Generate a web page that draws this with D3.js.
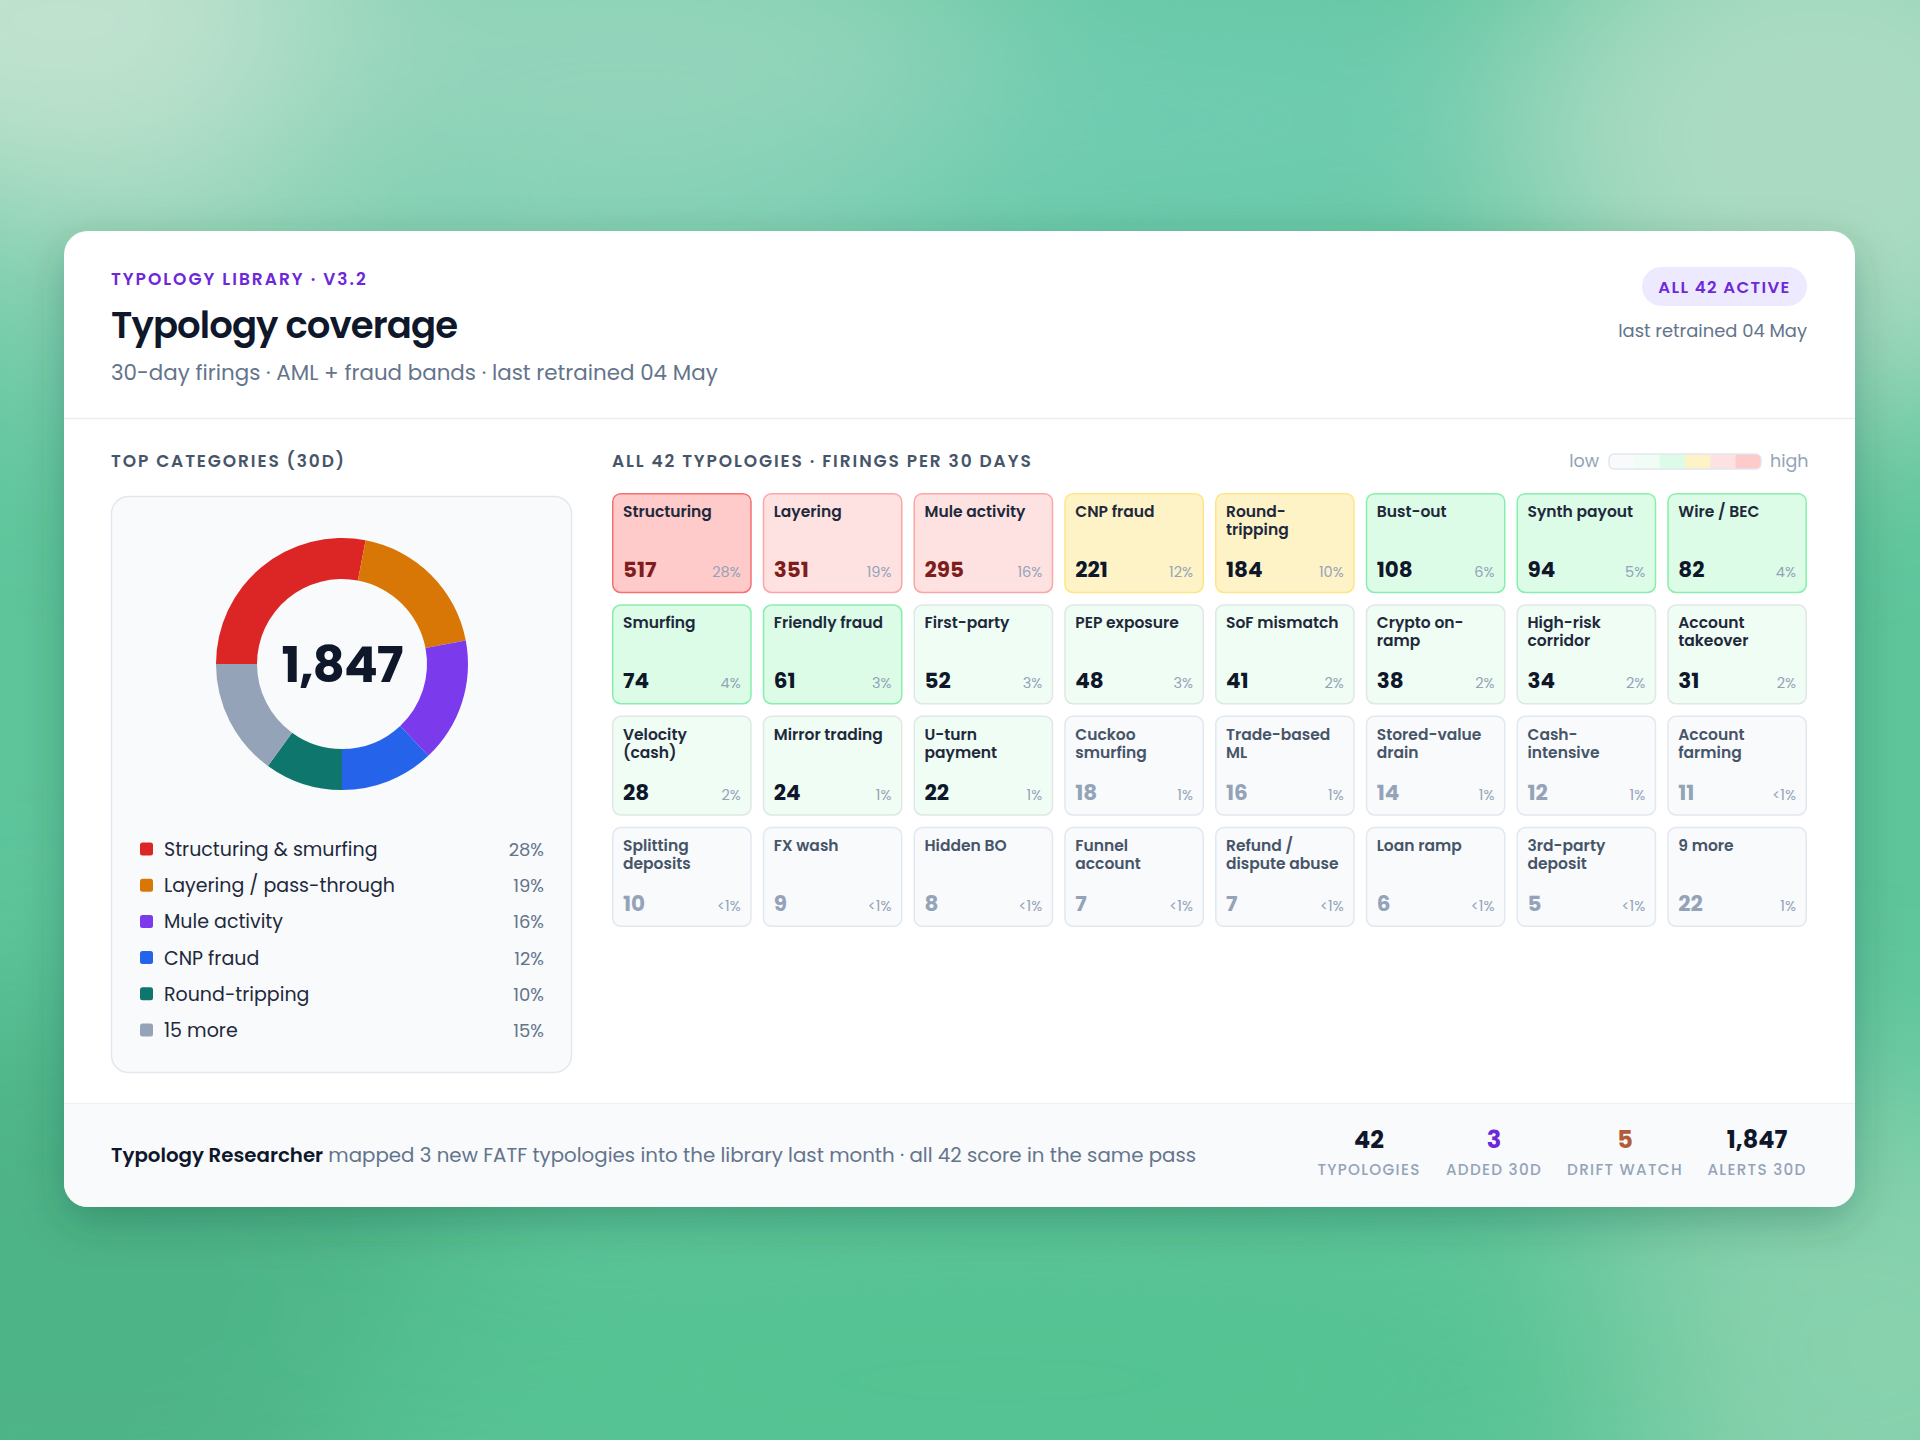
<!DOCTYPE html>
<html>
<head>
<meta charset="utf-8">
<script src="https://cdn.jsdelivr.net/npm/d3@7"></script>
<style>
html, body { margin: 0; padding: 0; background: #5ec59b; }
svg { display: block; font-family: Poppins, Inter, "Noto Sans", sans-serif; }
</style>
</head>
<body>
<svg id="chart" width="1920" height="1440"></svg>
<script>
// donut: top categories, share of 30-day firings
const categories = ['Structuring & smurfing', 'Layering / pass-through', 'Mule activity', 'CNP fraud', 'Round-tripping', '15 more'];
const categoryShares = [28, 19, 16, 12, 10, 15];
const categoryColors = ['#dc2626', '#d97706', '#7c3aed', '#2563eb', '#0f766e', '#94a3b8'];
const totalAlerts = 1847;

// grid: all typologies, row by row (\n = where the label wraps)
const typologies = [
    'Structuring', 'Layering', 'Mule activity', 'CNP fraud', 'Round-\ntripping', 'Bust-out', 'Synth payout', 'Wire / BEC',
    'Smurfing', 'Friendly fraud', 'First-party', 'PEP exposure', 'SoF mismatch', 'Crypto on-\nramp', 'High-risk\ncorridor', 'Account\ntakeover',
    'Velocity\n(cash)', 'Mirror trading', 'U-turn\npayment', 'Cuckoo\nsmurfing', 'Trade-based\nML', 'Stored-value\ndrain', 'Cash-\nintensive', 'Account\nfarming',
    'Splitting\ndeposits', 'FX wash', 'Hidden BO', 'Funnel\naccount', 'Refund /\ndispute abuse', 'Loan ramp', '3rd-party\ndeposit', '9 more',
];
const firings = [
    517, 351, 295, 221, 184, 108, 94, 82,
    74, 61, 52, 48, 41, 38, 34, 31,
    28, 24, 22, 18, 16, 14, 12, 11,
    10, 9, 8, 7, 7, 6, 5, 22,
];
const shareLabels = [
    '28%', '19%', '16%', '12%', '10%', '6%', '5%', '4%',
    '4%', '3%', '3%', '3%', '2%', '2%', '2%', '2%',
    '2%', '1%', '1%', '1%', '1%', '1%', '1%', '<1%',
    '<1%', '<1%', '<1%', '<1%', '<1%', '<1%', '<1%', '1%',
];
const bandBreaks = [20, 60, 150, 250, 400];
const stats = [['42', 'TYPOLOGIES'], ['3', 'ADDED 30D'], ['5', 'DRIFT WATCH'], ['1,847', 'ALERTS 30D']];

// heat bands, low -> high
const bands = [
    { fill: '#f8fafc', stroke: '#e2e8f0', name: '#475569', num: '#94a3b8' },
    { fill: '#f0fdf4', stroke: '#dfe8e6', name: '#1e293b', num: '#0f172a' },
    { fill: '#dcfce7', stroke: '#86efac', name: '#1e293b', num: '#0f172a' },
    { fill: '#fef3c7', stroke: '#fde68a', name: '#1e293b', num: '#0f172a' },
    { fill: '#fee2e2', stroke: '#fca5a5', name: '#1e293b', num: '#7f1d1d' },
    { fill: '#fecaca', stroke: '#f87171', name: '#1e293b', num: '#7f1d1d' },
];
const bandOf = d3.scaleThreshold().domain(bandBreaks).range(d3.range(bands.length));

const svg = d3.select('#chart');
const defs = svg.append('defs');

// --- background
const blur = defs.append('filter').attr('id', 'blur').attr('x', '-50%').attr('y', '-50%').attr('width', '200%').attr('height', '200%');
blur.append('feGaussianBlur').attr('stdDeviation', 90);
const shadow = defs.append('filter').attr('id', 'shadow').attr('x', '-10%').attr('y', '-10%').attr('width', '120%').attr('height', '130%');
shadow.append('feDropShadow').attr('dx', 0).attr('dy', 14).attr('stdDeviation', 22).attr('flood-color', '#0b3d2c').attr('flood-opacity', 0.28);

svg.append('rect').attr('width', 1920).attr('height', 1440).attr('fill', '#5ec59b');
const blobs = [
    [1000, 120, 700, 160, '#70ccb0'],
    [80, 20, 380, 200, '#c0e2cf'],
    [620, 40, 380, 140, '#97d6bd'],
    [1820, 140, 300, 280, '#aadbc2'],
    [420, 330, 520, 100, '#86d2b6'],
    [80, 1300, 420, 300, '#4db487'],
    [1850, 1350, 300, 260, '#88d2ae'],
    [1000, 1380, 700, 160, '#55c393'],
];
svg.append('g').attr('filter', 'url(#blur)')
    .selectAll('ellipse').data(blobs).join('ellipse')
    .attr('cx', d => d[0]).attr('cy', d => d[1]).attr('rx', d => d[2]).attr('ry', d => d[3]).attr('fill', d => d[4]);

// --- card
const card = { x: 64, y: 231, w: 1791, h: 976, r: 24 };
defs.append('clipPath').attr('id', 'cardClip').append('rect')
    .attr('x', card.x).attr('y', card.y).attr('width', card.w).attr('height', card.h).attr('rx', card.r);
svg.append('rect').attr('x', card.x).attr('y', card.y).attr('width', card.w).attr('height', card.h).attr('rx', card.r)
    .attr('fill', '#fff').attr('filter', 'url(#shadow)');

const inner = svg.append('g').attr('clip-path', 'url(#cardClip)');
inner.append('rect').attr('x', card.x).attr('y', 1103).attr('width', card.w).attr('height', card.y + card.h - 1103).attr('fill', '#f8fafc');
inner.append('line').attr('x1', card.x).attr('x2', card.x + card.w).attr('y1', 1103.5).attr('y2', 1103.5).attr('stroke', '#eef2f6').attr('stroke-width', 1.5);
inner.append('line').attr('x1', card.x).attr('x2', card.x + card.w).attr('y1', 418.5).attr('y2', 418.5).attr('stroke', '#e9eef4').attr('stroke-width', 1.5);

// --- header
const left = 111, right = 1807;
svg.append('text').attr('x', left).attr('y', 285).attr('fill', '#6d28d9')
    .attr('font-size', 17).attr('font-weight', 600).attr('letter-spacing', 2).text('TYPOLOGY LIBRARY · V3.2');
svg.append('text').attr('x', left).attr('y', 338).attr('fill', '#0f172a')
    .attr('font-size', 37).attr('font-weight', 600).attr('letter-spacing', -0.9).text('Typology coverage');
svg.append('text').attr('x', left).attr('y', 380).attr('fill', '#64748b')
    .attr('font-size', 21.4).text('30-day firings · AML + fraud bands · last retrained 04 May');

svg.append('rect').attr('x', 1642).attr('y', 267).attr('width', right - 1642).attr('height', 39).attr('rx', 19.5).attr('fill', '#ede9fe');
svg.append('text').attr('x', (1642 + right) / 2).attr('y', 292.5).attr('text-anchor', 'middle').attr('fill', '#6d28d9')
    .attr('font-size', 16.5).attr('font-weight', 600).attr('letter-spacing', 1.4).text('ALL 42 ACTIVE');
svg.append('text').attr('x', right).attr('y', 337).attr('text-anchor', 'end').attr('fill', '#64748b')
    .attr('font-size', 17.9).text('last retrained 04 May');

// --- section headings
const heading = (x, label) => svg.append('text').attr('x', x).attr('y', 467).attr('fill', '#475569')
    .attr('font-size', 17).attr('font-weight', 600).attr('letter-spacing', 1.9).text(label);
heading(left, 'TOP CATEGORIES (30D)');
heading(612, 'ALL 42 TYPOLOGIES · FIRINGS PER 30 DAYS');

// --- donut panel
svg.append('rect').attr('x', 111.5).attr('y', 496.5).attr('width', 460).attr('height', 576).attr('rx', 17)
    .attr('fill', '#f8fafc').attr('stroke', '#e2e8f0').attr('stroke-width', 1.5);

const cx = 342, cy = 664;
const pie = d3.pie().sort(null).startAngle(-Math.PI / 2).endAngle(Math.PI * 1.5);
const arc = d3.arc().innerRadius(85).outerRadius(126);
const slices = pie(categoryShares);
svg.append('g').attr('transform', `translate(${cx},${cy})`)
    .selectAll('path').data(slices).join('path')
    .attr('d', arc).attr('fill', (d, i) => categoryColors[i]);
svg.append('text').attr('x', cx).attr('y', cy + 18).attr('text-anchor', 'middle').attr('fill', '#0f172a')
    .attr('font-size', 50).attr('font-weight', 700).attr('letter-spacing', -1).text(d3.format(',')(totalAlerts));

const legendY = d3.scaleLinear().domain([0, categories.length - 1]).range([849, 1030]);
const legend = svg.append('g').selectAll('g').data(categories).join('g')
    .attr('transform', (d, i) => `translate(0,${legendY(i)})`);
legend.append('rect').attr('x', 140).attr('y', -6.5).attr('width', 13).attr('height', 13).attr('rx', 2.5)
    .attr('fill', (d, i) => categoryColors[i]);
legend.append('text').attr('x', 164).attr('y', 7).attr('fill', '#1e293b').attr('font-size', 19).text(d => d);
legend.append('text').attr('x', 544).attr('y', 7).attr('text-anchor', 'end').attr('fill', '#64748b')
    .attr('font-size', 18).text((d, i) => categoryShares[i] + '%');

// --- heat legend
const bandX = d3.scaleBand().domain(d3.range(bands.length)).range([1609, 1761]);
defs.append('clipPath').attr('id', 'bandClip').append('rect')
    .attr('x', 1609).attr('y', 454).attr('width', 152).attr('height', 15).attr('rx', 5);
svg.append('g').attr('clip-path', 'url(#bandClip)')
    .selectAll('rect').data(bands).join('rect')
    .attr('x', (d, i) => bandX(i)).attr('y', 454).attr('width', bandX.bandwidth() + 0.5).attr('height', 15).attr('fill', d => d.fill);
svg.append('rect').attr('x', 1609).attr('y', 454).attr('width', 152).attr('height', 15).attr('rx', 5)
    .attr('fill', 'none').attr('stroke', '#e2e8f0').attr('stroke-width', 1.5);
svg.append('text').attr('x', 1599).attr('y', 467).attr('text-anchor', 'end').attr('fill', '#94a3b8').attr('font-size', 17.5).text('low');
svg.append('text').attr('x', 1770).attr('y', 467).attr('fill', '#94a3b8').attr('font-size', 17.5).text('high');

// --- typology grid
const cols = 8;
const cells = typologies.map((name, i) => {
    const rest = /more$/.test(name);
    return { name, value: firings[i], share: shareLabels[i], col: i % cols, row: Math.floor(i / cols), band: rest ? 0 : bandOf(firings[i]) };
});
const gx = d3.scaleBand().domain(d3.range(cols)).range([612, 1807]).paddingInner(0.073);
const gy = d3.scaleBand().domain(d3.range(cells.length / cols)).range([493, 927]).paddingInner(0.099);

const cell = svg.append('g').selectAll('g').data(cells).join('g')
    .attr('transform', d => `translate(${gx(d.col)},${gy(d.row)})`);
cell.append('rect').attr('x', 0.75).attr('y', 0.75)
    .attr('width', gx.bandwidth() - 1.5).attr('height', gy.bandwidth() - 1.5).attr('rx', 8)
    .attr('fill', d => bands[d.band].fill).attr('stroke', d => bands[d.band].stroke).attr('stroke-width', 1.5);
cell.append('text').attr('x', 11).attr('y', 24).attr('fill', d => bands[d.band].name)
    .attr('font-size', 15.5).attr('font-weight', 600)
    .selectAll('tspan').data(d => d.name.split('\n')).join('tspan')
    .attr('x', 11).attr('dy', (d, i) => i ? 18 : 0).text(d => d);
cell.append('text').attr('x', 11).attr('y', 84).attr('fill', d => bands[d.band].num)
    .attr('font-size', 21.5).attr('font-weight', 700).text(d => d.value);
cell.append('text').attr('x', gx.bandwidth() - 11).attr('y', 84).attr('text-anchor', 'end').attr('fill', '#94a3b8')
    .attr('font-size', 14.5).text(d => d.share);

// --- footer
const foot = svg.append('text').attr('x', left).attr('y', 1162).attr('font-size', 19.8).attr('fill', '#64748b');
foot.append('tspan').attr('fill', '#0f172a').attr('font-weight', 600).text('Typology Researcher');
foot.append('tspan').text(' mapped 3 new FATF typologies into the library last month · all 42 score in the same pass');

const statX = [1369, 1494, 1625, 1757];
const statColors = ['#0f172a', '#6d28d9', '#b45a38', '#0f172a'];
const stat = svg.append('g').selectAll('g').data(stats).join('g')
    .attr('transform', (d, i) => `translate(${statX[i]},0)`);
stat.append('text').attr('y', 1148).attr('text-anchor', 'middle').attr('font-size', 24).attr('font-weight', 700)
    .attr('fill', (d, i) => statColors[i]).text(d => d[0]);
stat.append('text').attr('y', 1175).attr('text-anchor', 'middle').attr('font-size', 15.2).attr('font-weight', 500)
    .attr('letter-spacing', 1.3).attr('fill', '#94a3b8').text(d => d[1]);
</script>
</body>
</html>
